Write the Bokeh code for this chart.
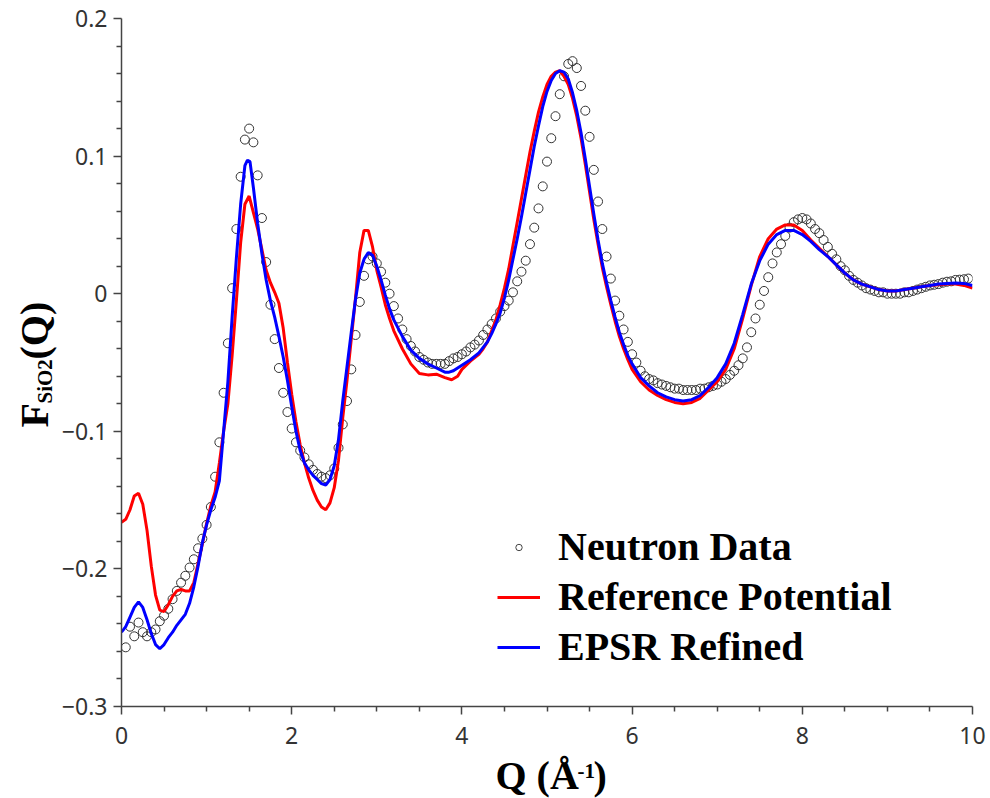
import math
from bokeh.plotting import figure
from bokeh.layouts import row, column
from bokeh.models import Range1d, FixedTicker, Label, Legend, LegendItem, CustomJSTickFormatter
from bokeh.embed import file_html
from bokeh.resources import INLINE

# ---------------- data ----------------
q_neutron = [
    0.05, 0.10, 0.15, 0.20, 0.25, 0.30, 0.35, 0.40, 0.45, 0.50, 0.55, 0.60, 0.65, 0.70, 0.75, 0.80, 0.85, 0.90, 0.95, 1.00,
    1.05, 1.10, 1.15, 1.20, 1.25, 1.30, 1.35, 1.40, 1.45, 1.50, 1.55, 1.60, 1.65, 1.70, 1.75, 1.80, 1.85, 1.90, 1.95, 2.00,
    2.05, 2.10, 2.15, 2.20, 2.25, 2.30, 2.35, 2.40, 2.45, 2.50, 2.55, 2.60, 2.65, 2.70, 2.75, 2.80, 2.85, 2.90, 2.95, 3.00,
    3.05, 3.10, 3.15, 3.20, 3.25, 3.30, 3.35, 3.40, 3.45, 3.50, 3.55, 3.60, 3.65, 3.70, 3.75, 3.80, 3.85, 3.90, 3.95, 4.00,
    4.05, 4.10, 4.15, 4.20, 4.25, 4.30, 4.35, 4.40, 4.45, 4.50, 4.55, 4.60, 4.65, 4.70, 4.75, 4.80, 4.85, 4.90, 4.95, 5.00,
    5.05, 5.10, 5.15, 5.20, 5.25, 5.30, 5.35, 5.40, 5.45, 5.50, 5.55, 5.60, 5.65, 5.70, 5.75, 5.80, 5.85, 5.90, 5.95, 6.00,
    6.05, 6.10, 6.15, 6.20, 6.25, 6.30, 6.35, 6.40, 6.45, 6.50, 6.55, 6.60, 6.65, 6.70, 6.75, 6.80, 6.85, 6.90, 6.95, 7.00,
    7.05, 7.10, 7.15, 7.20, 7.25, 7.30, 7.35, 7.40, 7.45, 7.50, 7.55, 7.60, 7.65, 7.70, 7.75, 7.80, 7.85, 7.90, 7.95, 8.00,
    8.05, 8.10, 8.15, 8.20, 8.25, 8.30, 8.35, 8.40, 8.45, 8.50, 8.55, 8.60, 8.65, 8.70, 8.75, 8.80, 8.85, 8.90, 8.95, 9.00,
    9.05, 9.10, 9.15, 9.20, 9.25, 9.30, 9.35, 9.40, 9.45, 9.50, 9.55, 9.60, 9.65, 9.70, 9.75, 9.80, 9.85, 9.90, 9.95,
]
f_neutron = [
    -0.257, -0.242, -0.249, -0.239, -0.246, -0.249, -0.246, -0.244, -0.238, -0.234, -0.229, -0.222, -0.216, -0.210, -0.205, -0.199, -0.193, -0.185, -0.178, -0.168,
    -0.155, -0.133, -0.108, -0.072, -0.036, 0.004, 0.047, 0.085, 0.112, 0.120, 0.110, 0.086, 0.055, 0.023, -0.008, -0.033, -0.054, -0.072, -0.086, -0.098,
    -0.108, -0.114, -0.119, -0.124, -0.128, -0.131, -0.133, -0.134, -0.132, -0.127, -0.112, -0.095, -0.078, -0.055, -0.030, -0.006, 0.013, 0.025, 0.027, 0.022,
    0.016, 0.008, 0.000, -0.009, -0.018, -0.026, -0.033, -0.038, -0.042, -0.046, -0.048, -0.050, -0.051, -0.051, -0.051, -0.051, -0.049, -0.047, -0.046, -0.044,
    -0.042, -0.039, -0.037, -0.034, -0.030, -0.026, -0.022, -0.018, -0.013, -0.009, -0.005, 0.001, 0.009, 0.016, 0.024, 0.036, 0.048, 0.062, 0.078, 0.096,
    0.113, 0.129, 0.145, 0.158, 0.167, 0.169, 0.164, 0.151, 0.133, 0.114, 0.090, 0.067, 0.047, 0.027, 0.011, -0.005, -0.016, -0.026, -0.035, -0.044,
    -0.050, -0.056, -0.060, -0.062, -0.063, -0.065, -0.066, -0.067, -0.068, -0.069, -0.069, -0.070, -0.070, -0.070, -0.070, -0.069, -0.069, -0.068, -0.067, -0.066,
    -0.064, -0.062, -0.059, -0.056, -0.052, -0.047, -0.039, -0.028, -0.018, -0.008, 0.002, 0.012, 0.022, 0.030, 0.036, 0.042, 0.048, 0.052, 0.054, 0.055,
    0.054, 0.051, 0.047, 0.044, 0.039, 0.034, 0.029, 0.025, 0.020, 0.017, 0.013, 0.010, 0.008, 0.006, 0.004, 0.003, 0.002, 0.001, 0.001, 0.000,
    0.000, 0.000, 0.000, 0.001, 0.001, 0.002, 0.003, 0.004, 0.005, 0.006, 0.0065, 0.007, 0.008, 0.0087, 0.009, 0.010, 0.0102, 0.0105, 0.011,
]

q_reference = [
    0.00, 0.05, 0.10, 0.15, 0.20, 0.25, 0.30, 0.35, 0.40, 0.45, 0.50, 0.55, 0.60, 0.65, 0.70, 0.75, 0.80, 0.85, 0.90, 0.95,
    1.00, 1.05, 1.10, 1.15, 1.20, 1.25, 1.30, 1.35, 1.40, 1.45, 1.50, 1.55, 1.60, 1.65, 1.70, 1.75, 1.80, 1.85, 1.90, 1.95,
    2.00, 2.05, 2.10, 2.15, 2.20, 2.25, 2.30, 2.35, 2.40, 2.45, 2.50, 2.55, 2.60, 2.65, 2.70, 2.75, 2.80, 2.85, 2.90, 2.95,
    3.00, 3.05, 3.10, 3.15, 3.20, 3.30, 3.40, 3.50, 3.60, 3.70, 3.80, 3.88, 3.95, 4.00, 4.10, 4.20, 4.25, 4.30, 4.35, 4.40,
    4.45, 4.50, 4.55, 4.60, 4.65, 4.70, 4.75, 4.80, 4.85, 4.90, 4.95, 5.00, 5.05, 5.10, 5.15, 5.20, 5.25, 5.30, 5.35, 5.40,
    5.45, 5.50, 5.55, 5.60, 5.65, 5.70, 5.75, 5.80, 5.85, 5.90, 5.95, 6.00, 6.10, 6.20, 6.30, 6.40, 6.50, 6.60, 6.70, 6.80,
    6.90, 7.00, 7.10, 7.20, 7.30, 7.40, 7.50, 7.60, 7.70, 7.80, 7.90, 8.00, 8.10, 8.20, 8.30, 8.40, 8.50, 8.60, 8.70, 8.80,
    8.90, 9.00, 9.10, 9.20, 9.30, 9.40, 9.50, 9.60, 9.70, 9.80, 9.90, 10.00,
]
f_reference = [
    -0.166, -0.164, -0.157, -0.147, -0.145, -0.153, -0.172, -0.198, -0.219, -0.230, -0.231, -0.226, -0.220, -0.216, -0.215, -0.216, -0.216, -0.210, -0.196, -0.182,
    -0.167, -0.154, -0.144, -0.123, -0.100, -0.080, -0.045, -0.005, 0.037, 0.065, 0.071, 0.059, 0.047, 0.032, 0.017, 0.008, 0.001, -0.007, -0.025, -0.050,
    -0.073, -0.093, -0.110, -0.123, -0.134, -0.143, -0.150, -0.155, -0.157, -0.152, -0.141, -0.121, -0.090, -0.063, -0.033, -0.003, 0.030, 0.046, 0.046, 0.034,
    0.017, 0.005, -0.008, -0.018, -0.027, -0.040, -0.051, -0.058, -0.059, -0.0585, -0.061, -0.0625, -0.060, -0.055, -0.049, -0.044, -0.040, -0.035, -0.027, -0.019,
    -0.008, 0.004, 0.018, 0.035, 0.052, 0.069, 0.086, 0.103, 0.118, 0.132, 0.143, 0.152, 0.158, 0.161, 0.162, 0.158, 0.152, 0.142, 0.129, 0.113,
    0.094, 0.074, 0.054, 0.036, 0.019, 0.005, -0.008, -0.020, -0.031, -0.040, -0.048, -0.055, -0.064, -0.070, -0.074, -0.077, -0.079, -0.080, -0.079, -0.076,
    -0.070, -0.064, -0.055, -0.040, -0.018, 0.006, 0.027, 0.040, 0.047, 0.050, 0.050, 0.046, 0.039, 0.033, 0.027, 0.021, 0.015, 0.010, 0.007, 0.005,
    0.003, 0.002, 0.002, 0.003, 0.004, 0.005, 0.006, 0.0065, 0.007, 0.007, 0.006, 0.004,
]

q_epsr = [
    0.00, 0.05, 0.10, 0.15, 0.20, 0.25, 0.30, 0.35, 0.40, 0.45, 0.50, 0.55, 0.60, 0.65, 0.70, 0.75, 0.80, 0.85, 0.90, 0.95,
    1.00, 1.05, 1.10, 1.15, 1.20, 1.25, 1.30, 1.35, 1.40, 1.45, 1.48, 1.51, 1.55, 1.60, 1.65, 1.70, 1.75, 1.80, 1.85, 1.90,
    1.95, 2.00, 2.05, 2.10, 2.15, 2.20, 2.25, 2.30, 2.35, 2.40, 2.45, 2.50, 2.55, 2.60, 2.65, 2.70, 2.75, 2.80, 2.85, 2.90,
    2.95, 3.00, 3.05, 3.10, 3.15, 3.20, 3.30, 3.40, 3.50, 3.60, 3.70, 3.80, 3.85, 3.90, 4.00, 4.10, 4.20, 4.25, 4.30, 4.35,
    4.40, 4.45, 4.50, 4.55, 4.60, 4.65, 4.70, 4.75, 4.80, 4.85, 4.90, 4.95, 5.00, 5.05, 5.10, 5.15, 5.20, 5.25, 5.30, 5.35,
    5.40, 5.45, 5.50, 5.55, 5.60, 5.65, 5.70, 5.75, 5.80, 5.85, 5.90, 5.95, 6.00, 6.10, 6.20, 6.30, 6.40, 6.50, 6.60, 6.70,
    6.80, 6.90, 7.00, 7.10, 7.20, 7.30, 7.40, 7.50, 7.60, 7.70, 7.80, 7.90, 8.00, 8.10, 8.20, 8.30, 8.40, 8.50, 8.60, 8.70,
    8.80, 8.90, 9.00, 9.10, 9.20, 9.30, 9.40, 9.50, 9.60, 9.70, 9.80, 9.90, 10.00,
]
f_epsr = [
    -0.246, -0.242, -0.235, -0.228, -0.224, -0.228, -0.237, -0.247, -0.255, -0.258, -0.255, -0.250, -0.246, -0.241, -0.237, -0.233, -0.225, -0.213, -0.198, -0.181,
    -0.168, -0.157, -0.148, -0.136, -0.100, -0.064, -0.017, 0.026, 0.065, 0.093, 0.097, 0.096, 0.077, 0.051, 0.029, 0.010, -0.005, -0.017, -0.031, -0.046,
    -0.063, -0.082, -0.100, -0.114, -0.123, -0.128, -0.132, -0.135, -0.138, -0.139, -0.135, -0.125, -0.106, -0.078, -0.053, -0.028, -0.004, 0.015, 0.025, 0.030,
    0.028, 0.020, 0.010, -0.001, -0.011, -0.019, -0.031, -0.041, -0.047, -0.051, -0.054, -0.057, -0.057, -0.056, -0.052, -0.048, -0.043, -0.039, -0.035, -0.029,
    -0.022, -0.014, -0.003, 0.010, 0.025, 0.040, 0.056, 0.073, 0.090, 0.107, 0.122, 0.136, 0.147, 0.155, 0.160, 0.162, 0.161, 0.156, 0.146, 0.133,
    0.117, 0.098, 0.078, 0.058, 0.039, 0.022, 0.008, -0.005, -0.017, -0.028, -0.037, -0.045, -0.051, -0.061, -0.067, -0.072, -0.075, -0.077, -0.078, -0.077,
    -0.074, -0.068, -0.061, -0.051, -0.036, -0.015, 0.007, 0.024, 0.036, 0.043, 0.046, 0.046, 0.043, 0.038, 0.032, 0.027, 0.021, 0.015, 0.010, 0.007,
    0.005, 0.003, 0.002, 0.002, 0.003, 0.004, 0.005, 0.006, 0.007, 0.0075, 0.0078, 0.0075, 0.006,
]

x_major = [0, 2, 4, 6, 8, 10]
x_minor = [0.5, 1, 1.5, 2.5, 3, 3.5, 4.5, 5, 5.5, 6.5, 7, 7.5, 8.5, 9, 9.5]
y_major = [-0.3, -0.2, -0.1, 0, 0.1, 0.2]
y_minor = [-0.28, -0.26, -0.24, -0.22, -0.18, -0.16, -0.14, -0.12, -0.08, -0.06, -0.04, -0.02,
           0.02, 0.04, 0.06, 0.08, 0.12, 0.14, 0.16, 0.18]

legend_names = ["Neutron Data", "Reference Potential", "EPSR Refined"]

# ---------------- layout geometry ----------------
YLAB_W = 58          # strip on the left holding the y title
MAIN_W = 990 - YLAB_W
MAIN_H = 752
XLAB_H = 798 - MAIN_H
FRAME_LEFT = 121     # page x of the plot frame's left edge

# ---------------- main figure ----------------
p = figure(width=MAIN_W, height=MAIN_H, output_backend="svg", toolbar_location=None,
           x_range=Range1d(0, 10), y_range=Range1d(-0.3, 0.2),
           min_border_left=FRAME_LEFT - YLAB_W, min_border_right=18, min_border_top=18,
           min_border_bottom=MAIN_H - 706)
p.outline_line_color = None
p.grid.visible = False

r_n = p.scatter(q_neutron, f_neutron, marker="circle", size=9, fill_color=None,
                line_color="#333333", line_width=1)
r_r = p.line(q_reference, f_reference, line_color="#ff0000", line_width=3)
r_b = p.line(q_epsr, f_epsr, line_color="#0000ff", line_width=3)
# hidden copy of the data, used only for the legend swatch
r_leg = p.scatter(q_neutron, f_neutron, marker="circle", size=6, fill_color=None,
                  line_color="#444444", line_width=1, visible=False)

fmt = CustomJSTickFormatter(code="""
    if (Math.abs(tick) < 1e-9) { return "0"; }
    var s = Number.isInteger(tick) ? tick.toFixed(0) : tick.toFixed(1);
    return s.replace("-", "\u2212");
""")

for ax, maj, mino, stand in ((p.xaxis[0], x_major, x_minor, 12), (p.yaxis[0], y_major, y_minor, 6)):
    ax.ticker = FixedTicker(ticks=maj, minor_ticks=mino)
    ax.formatter = fmt
    ax.axis_line_color = "#444444"
    ax.axis_line_width = 1.5
    ax.major_tick_line_color = "#444444"
    ax.minor_tick_line_color = "#444444"
    ax.major_tick_line_width = 1.5
    ax.minor_tick_line_width = 1.5
    ax.major_tick_out = 8
    ax.major_tick_in = 0
    ax.minor_tick_out = 5
    ax.minor_tick_in = 0
    ax.major_label_text_font = "Noto Sans"
    ax.major_label_text_font_size = "23px"
    ax.major_label_text_color = "#333333"
    ax.major_label_standoff = stand
    ax.axis_label = None

legend = Legend(items=[LegendItem(label=legend_names[0], renderers=[r_leg]),
                       LegendItem(label=legend_names[1], renderers=[r_r]),
                       LegendItem(label=legend_names[2], renderers=[r_b])],
                location=(376, 36))
legend.border_line_color = None
legend.background_fill_alpha = 0
legend.inactive_fill_alpha = 0
legend.label_text_font = "Liberation Serif"
legend.label_text_font_style = "bold"
legend.label_text_font_size = "40px"
legend.label_text_color = "black"
legend.glyph_width = 43
legend.glyph_height = 16
legend.label_height = 44
legend.spacing = 3
legend.padding = 0
legend.margin = 0
legend.label_standoff = 18
p.add_layout(legend)

# ---------------- title strips ----------------
serif = dict(text_font="Liberation Serif", text_font_style="bold", text_color="black",
             x_units="screen", y_units="screen", text_baseline="middle", text_align="left")


def strip(w, h):
    f = figure(width=w, height=h, output_backend="svg", toolbar_location=None,
               x_range=Range1d(0, 1), y_range=Range1d(0, 1),
               min_border_left=0, min_border_right=0, min_border_top=0, min_border_bottom=0)
    f.axis.visible = False
    f.grid.visible = False
    f.outline_line_color = None
    return f


# y title: F_SiO2(Q), reading upwards
fy = strip(YLAB_W, 798)
fy.add_layout(Label(x=34, y=798 - 427, text="F", angle=math.pi / 2, text_font_size="40px", **serif))
fy.add_layout(Label(x=44, y=798 - 403, text="SiO2", angle=math.pi / 2, text_font_size="21px", **serif))
fy.add_layout(Label(x=34, y=798 - 359, text="(Q)", angle=math.pi / 2, text_font_size="40px", **serif))

# x title: Q (Å^-1); this strip's frame is aligned with the main frame
fx = strip(MAIN_W, XLAB_H)
fx.add_layout(Label(x=495 - FRAME_LEFT, y=798 - 775, text="Q (Å", text_font_size="40px", **serif))
fx.add_layout(Label(x=577 - FRAME_LEFT, y=798 - 770, text="-1", text_font_size="21px", **serif))
fx.add_layout(Label(x=593 - FRAME_LEFT, y=798 - 775, text=")", text_font_size="40px", **serif))

page = row(fy, column(p, fx, spacing=0), spacing=0)

open("out.html", "w").write(file_html(page, INLINE))
